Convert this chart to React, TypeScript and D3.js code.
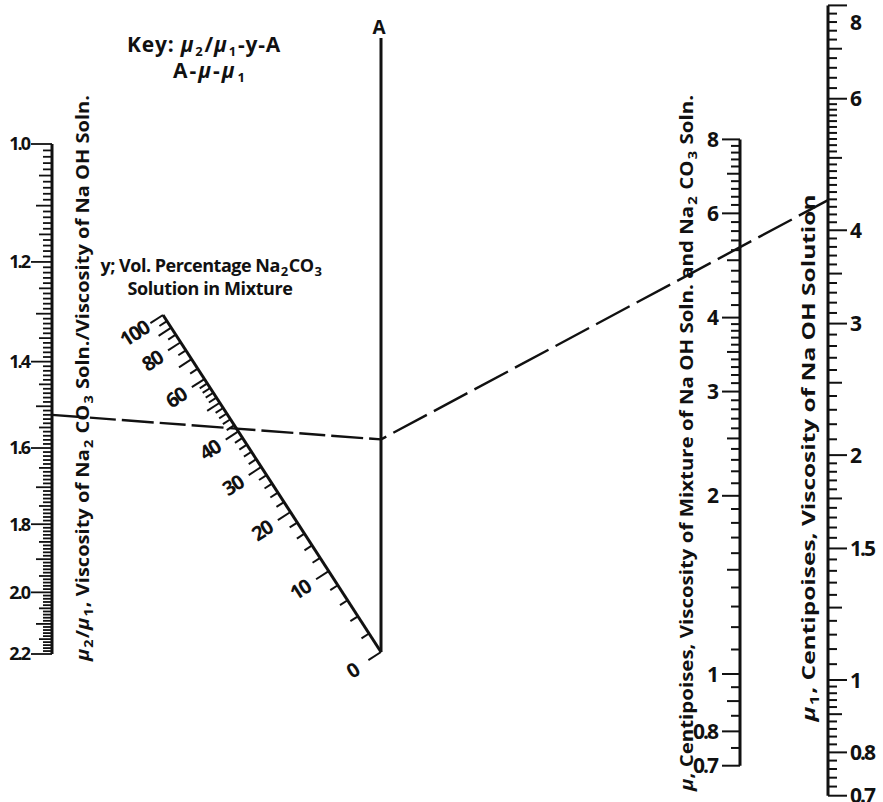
import React from "react";
import * as d3 from "d3";

// ---- axis tick labels ----
const ratioTickValues = [1.0, 1.2, 1.4, 1.6, 1.8, 2.0, 2.2];
const ratioTickLabels = ["1.0", "1.2", "1.4", "1.6", "1.8", "2.0", "2.2"];
const pctTickValues = [0, 10, 20, 30, 40, 60, 80, 100];
const pctTickLabels = ["0", "10", "20", "30", "40", "60", "80", "100"];
const muTickValues = [0.7, 0.8, 1, 2, 3, 4, 6, 8];
const muTickLabels = ["0.7", "0.8", "1", "2", "3", "4", "6", "8"];
const mu1TickValues = [0.7, 0.8, 1, 1.5, 2, 3, 4, 6, 8];
const mu1TickLabels = ["0.7", "0.8", "1", "1.5", "2", "3", "4", "6", "8"];
const muMidTicks = [0.9, 1.5, 2.5, 3.5, 5, 7];
const mu1MidTicks = [0.9, 1.25, 1.75, 2.5, 3.5, 5, 7];

// ---- worked example (key: μ2/μ1 – y – A, then A – μ – μ1) ----
const exampleRatio = [1.52];
const exampleMu = [5.26];
const exampleMu1 = [4.39];

type Part = [string, "n" | "s" | "i"];
const leftTitle: Part[] = [["μ", "i"], ["2", "s"], ["/", "n"], ["μ", "i"], ["1", "s"], [", Viscosity of Na", "n"], ["2", "s"], [" CO", "n"], ["3", "s"], [" Soln./Viscosity of Na OH Soln.", "n"]];
const muTitle: Part[] = [["μ", "i"], [", Centipoises, Viscosity of Mixture of Na OH Soln. and Na", "n"], ["2", "s"], [" CO", "n"], ["3", "s"], [" Soln.", "n"]];
const mu1Title: Part[] = [["μ", "i"], ["1", "s"], [", Centipoises, Viscosity of Na OH Solution", "n"]];
const pctTitle1: Part[] = [["y; Vol. Percentage Na", "n"], ["2", "s"], ["CO", "n"], ["3", "s"]];
const pctTitle2: Part[] = [["Solution in Mixture", "n"]];
const key1: Part[] = [["Key: ", "n"], ["μ", "i"], ["2", "s"], ["/", "n"], ["μ", "i"], ["1", "s"], ["-y-A", "n"]];
const key2: Part[] = [["A-", "n"], ["μ", "i"], ["-", "n"], ["μ", "i"], ["1", "s"]];

const FONT = "'Open Sans', 'DejaVu Sans', Arial, sans-serif";

function Parts({ parts, sub = 13 }: { parts: Part[]; sub?: number }) {
  let shifted = false;
  return (
    <>
      {parts.map(([t, k], i) => {
        let dy = 0;
        if (k === "s" && !shifted) { dy = 4; shifted = true; }
        else if (k !== "s" && shifted) { dy = -4; shifted = false; }
        return (
          <tspan key={i} dx={k === "s" || (i > 0 && parts[i - 1][1] === "s") ? 1 : undefined} dy={dy || undefined} fontSize={k === "s" ? sub : undefined} fontStyle={k === "i" ? "italic" : undefined}>
            {t}
          </tspan>
        );
      })}
    </>
  );
}

const near = (a: number, list: number[]) => list.some((b) => Math.abs(a - b) < 1e-6);

export default function App() {
  const leftX = 52, aX = 381, muX = 740, mu1X = 828;
  const ratioY = d3.scaleLog().domain([1, 2.2]).range([144, 654]);
  const muY = d3.scaleLog().domain([0.7, 8]).range([765.7, 139.4]);
  const mu1Y = d3.scaleLog().domain([0.7, 8]).range([795.7, 5.4]);
  const aY = d3.scaleLinear().domain([0, 1]).range([652, 38]);
  // diagonal percentage scale (hyperbolic spacing of the nomograph)
  const K = 54.3;
  const pctT = (v: number) => (v * (100 + K)) / (100 * (v + K));
  const P0 = [aX, aY(0)];
  const P100 = [163, 315];
  const diagX = d3.scaleLinear().domain([0, 1]).range([P0[0], P100[0]]);
  const diagY = d3.scaleLinear().domain([0, 1]).range([P0[1], P100[1]]);
  const dx = P100[0] - P0[0], dyy = P100[1] - P0[1];
  const len = Math.hypot(dx, dyy);
  const nx = dyy / len, ny = -dx / len;
  const nX = nx < 0 ? nx : -nx, nY = nx < 0 ? ny : -ny; // perpendicular pointing lower-left
  const labelAngle = (Math.atan2(-nY, -nX) * 180) / Math.PI;

  // ticks
  const ratioTicks = d3.range(100, 221).map((i) => ({
    v: i / 100,
    len: i % 20 === 0 ? 21 : i % 10 === 0 ? 16 : i % 5 === 0 ? 13 : 9,
  }));
  const pctVals = Array.from(new Set([...d3.range(0, 61, 2), ...d3.range(60, 101, 5)]));
  const pctTicks = pctVals.map((v) => ({ v, len: v % 10 === 0 ? 15 : 9 }));
  const muVals: number[] = [];
  d3.range(70, 101, 5).forEach((i) => muVals.push(i / 100));
  d3.range(10, 41).forEach((i) => muVals.push(i / 10));
  d3.range(20, 41).forEach((i) => muVals.push(i / 5));
  const muTicks = muVals
    .filter((v, i) => muVals.findIndex((w) => Math.abs(w - v) < 1e-6) === i)
    .map((v) => ({ v, len: near(v, muTickValues) ? 18 : near(v, muMidTicks) ? 13 : 9 }));
  const mu1Vals: number[] = [];
  d3.range(35, 51).forEach((i) => mu1Vals.push(i / 50));
  d3.range(20, 41).forEach((i) => mu1Vals.push(i / 20));
  d3.range(20, 61).forEach((i) => mu1Vals.push(i / 10));
  d3.range(30, 41).forEach((i) => mu1Vals.push(i / 5));
  const mu1Ticks = mu1Vals
    .filter((v, i) => mu1Vals.findIndex((w) => Math.abs(w - v) < 1e-6) === i)
    .map((v) => ({ v, len: near(v, mu1TickValues) ? 19 : near(v, mu1MidTicks) ? 14 : 9 }));

  // example lines
  const pMu = [muX, muY(exampleMu[0])];
  const pMu1 = [mu1X, mu1Y(exampleMu1[0])];
  const slope = (pMu1[1] - pMu[1]) / (pMu1[0] - pMu[0]);
  const pA = [aX, pMu[1] + slope * (aX - pMu[0])];
  const pRatio = [leftX, ratioY(exampleRatio[0])];

  const stroke = "#111";
  return (
    <svg width={883} height={802} style={{ position: "absolute", left: 0, top: 0, background: "#fff" }} fontFamily={FONT} fontWeight={700} fill={stroke}>
      <rect width={883} height={802} fill="#fff" />
      {/* Key */}
      <text x={204} y={52} textAnchor="middle" fontSize={21} letterSpacing={0.8}><Parts parts={key1} /></text>
      <text x={210} y={78} textAnchor="middle" fontSize={21} letterSpacing={2}><Parts parts={key2} /></text>

      {/* Left axis μ2/μ1 */}
      <line x1={leftX} x2={leftX} y1={ratioY(1)} y2={ratioY(2.2)} stroke={stroke} strokeWidth={3} />
      {ratioTicks.map((t, i) => (
        <line key={i} x1={leftX} x2={leftX - t.len} y1={ratioY(t.v)} y2={ratioY(t.v)} stroke={stroke} strokeWidth={1.8} />
      ))}
      {ratioTickValues.map((v, i) => (
        <text key={i} x={leftX - 23} y={ratioY(v)} dy="0.36em" textAnchor="end" fontSize={18} letterSpacing={-2}>{ratioTickLabels[i]}</text>
      ))}
      <text transform={`translate(${89},${378}) rotate(-90)`} textAnchor="middle" fontSize={18} textLength={566} lengthAdjust="spacingAndGlyphs"><Parts parts={leftTitle} /></text>

      {/* Diagonal y axis */}
      <line x1={P0[0]} y1={P0[1]} x2={P100[0]} y2={P100[1]} stroke={stroke} strokeWidth={3} />
      {pctTicks.map((t, i) => {
        const x = diagX(pctT(t.v)), y = diagY(pctT(t.v));
        return <line key={i} x1={x} y1={y} x2={x + nX * t.len} y2={y + nY * t.len} stroke={stroke} strokeWidth={2} />;
      })}
      {pctTickValues.map((v, i) => {
        const x = diagX(pctT(v)) + nX * 34, y = diagY(pctT(v)) + nY * 34;
        return (
          <text key={i} transform={`translate(${x},${y}) rotate(${labelAngle})`} dy="0.36em" textAnchor="middle" fontSize={20} letterSpacing={-1.5}>{pctTickLabels[i]}</text>
        );
      })}
      <text x={211} y={272} textAnchor="middle" fontSize={18} letterSpacing={-0.5}><Parts parts={pctTitle1} /></text>
      <text x={210} y={295} textAnchor="middle" fontSize={18} letterSpacing={-0.4}><Parts parts={pctTitle2} /></text>

      {/* A axis */}
      <line x1={aX} x2={aX} y1={aY(0)} y2={aY(1)} stroke={stroke} strokeWidth={3} />
      <text x={aX - 2} y={aY(1) - 4} textAnchor="middle" fontSize={19}>A</text>

      {/* μ axis */}
      <line x1={muX} x2={muX} y1={muY(0.7)} y2={muY(8)} stroke={stroke} strokeWidth={3} />
      {muTicks.map((t, i) => (
        <line key={i} x1={muX} x2={muX - t.len} y1={muY(t.v)} y2={muY(t.v)} stroke={stroke} strokeWidth={2} />
      ))}
      {muTickValues.map((v, i) => (
        <text key={i} x={muX - 23} y={muY(v)} dy="0.36em" textAnchor="end" fontSize={21} letterSpacing={-2}>{muTickLabels[i]}</text>
      ))}
      <text transform={`translate(${693},${443}) rotate(-90)`} textAnchor="middle" fontSize={18} textLength={696} lengthAdjust="spacingAndGlyphs"><Parts parts={muTitle} /></text>

      {/* μ1 axis */}
      <line x1={mu1X} x2={mu1X} y1={mu1Y(0.7)} y2={mu1Y(8)} stroke={stroke} strokeWidth={3} />
      {mu1Ticks.map((t, i) => (
        <line key={i} x1={mu1X} x2={mu1X + t.len} y1={mu1Y(t.v)} y2={mu1Y(t.v)} stroke={stroke} strokeWidth={2} />
      ))}
      {mu1TickValues.map((v, i) => (
        <text key={i} x={mu1X + 22} y={Math.max(mu1Y(v), 22)} dy="0.36em" textAnchor="start" fontSize={21} letterSpacing={-2}>{mu1TickLabels[i]}</text>
      ))}
      <text transform={`translate(${815},${458}) rotate(-90)`} textAnchor="middle" fontSize={18} textLength={527} lengthAdjust="spacingAndGlyphs"><Parts parts={mu1Title} /></text>

      {/* example isopleths */}
      <line x1={pRatio[0]} y1={pRatio[1]} x2={pA[0]} y2={pA[1]} stroke={stroke} strokeWidth={2.4} strokeDasharray="32 6 26 6" />
      <line x1={pRatio[0]} y1={pRatio[1] - 6} x2={pRatio[0]} y2={pRatio[1] + 2} stroke={stroke} strokeWidth={2} />
      <line x1={pA[0]} y1={pA[1]} x2={pMu1[0]} y2={pMu1[1]} stroke={stroke} strokeWidth={2.4} strokeDasharray="38 8" strokeDashoffset={-14} />
    </svg>
  );
}
